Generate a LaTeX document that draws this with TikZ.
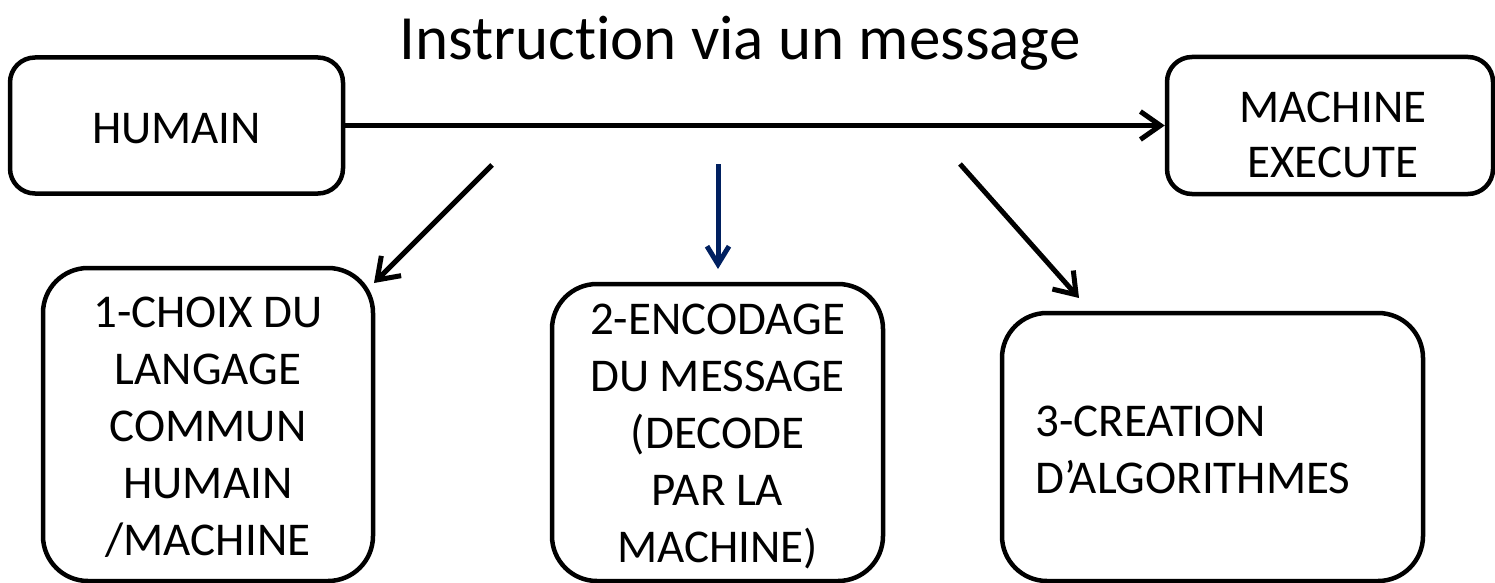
\documentclass[tikz,border=0pt]{standalone}
\usepackage{fontspec}
\setmainfont{Carlito}[Ligatures=NoCommon]
\usetikzlibrary{arrows.meta}
\definecolor{navyarrow}{RGB}{0,32,96}
\begin{document}
\begin{tikzpicture}[x=1pt,y=-1pt,
  box/.style={draw=black, line width=4.5pt, inner sep=0pt},
  smallbox/.style={box, rounded corners=25pt},
  bigbox/.style={box, rounded corners=45pt},
  txt/.style={inner sep=0pt, align=center, font=\fontsize{47}{57}\selectfont},
  toptxt/.style={inner sep=0pt, align=center, font=\fontsize{47}{55}\selectfont},
  titletxt/.style={inner sep=0pt, font=\fontsize{63}{76}\selectfont},
  arr/.style={line width=5pt, -{Straight Barb[length=20pt,width=28pt]}},
  barr/.style={draw=navyarrow, line width=5pt, -{Straight Barb[length=18pt,width=22pt]}}
]
\useasboundingbox (0,0) rectangle (1495,583);

% title
\node[titletxt, anchor=base] (title) at (740,60) {Instruction via un message};

% top boxes
\node[smallbox, minimum width=333pt, minimum height=136pt] (hum) at (176.5,125.5) {};
\node[toptxt, anchor=north] (thum) at (176.5,113) {HUMAIN};
\node[smallbox, minimum width=326pt, minimum height=137pt] (mach) at (1330,125.5) {};
\node[toptxt, anchor=north] (tmach) at (1333,92) {MACHINE\\EXECUTE};

\draw[arr] (hum.east) -- (mach.west);

% bottom boxes
\node[bigbox, minimum width=330pt, minimum height=313pt] (b1) at (208,424.5) {};
\node[txt, anchor=north] (t1) at (208,297) {1-CHOIX DU\\LANGAGE\\COMMUN\\HUMAIN\\/MACHINE};

\node[bigbox, minimum width=331pt, minimum height=297pt] (b2) at (717.5,432.5) {};
\node[txt, anchor=north] (t2) at (717.5,304) {2-ENCODAGE\\DU MESSAGE\\(DECODE\\PAR LA\\MACHINE)};

\node[bigbox, minimum width=421pt, minimum height=268pt] (b3) at (1212.5,447) {};
\node[txt, align=left, anchor=north west] (t3) at (1035,406) {3-CREATION\\D’ALGORITHMES};

% diagonal / vertical arrows
\coordinate (s1) at (492,165);
\coordinate (e1) at (374,283);
\coordinate (s2) at (718,164);
\coordinate (e2) at (718,269);
\coordinate (s3) at (960,164);
\coordinate (e3) at (1079,298);
\draw[arr] (s1) -- (e1);
\draw[barr] (s2) -- (e2);
\draw[arr] (s3) -- (e3);
\end{tikzpicture}
\end{document}
